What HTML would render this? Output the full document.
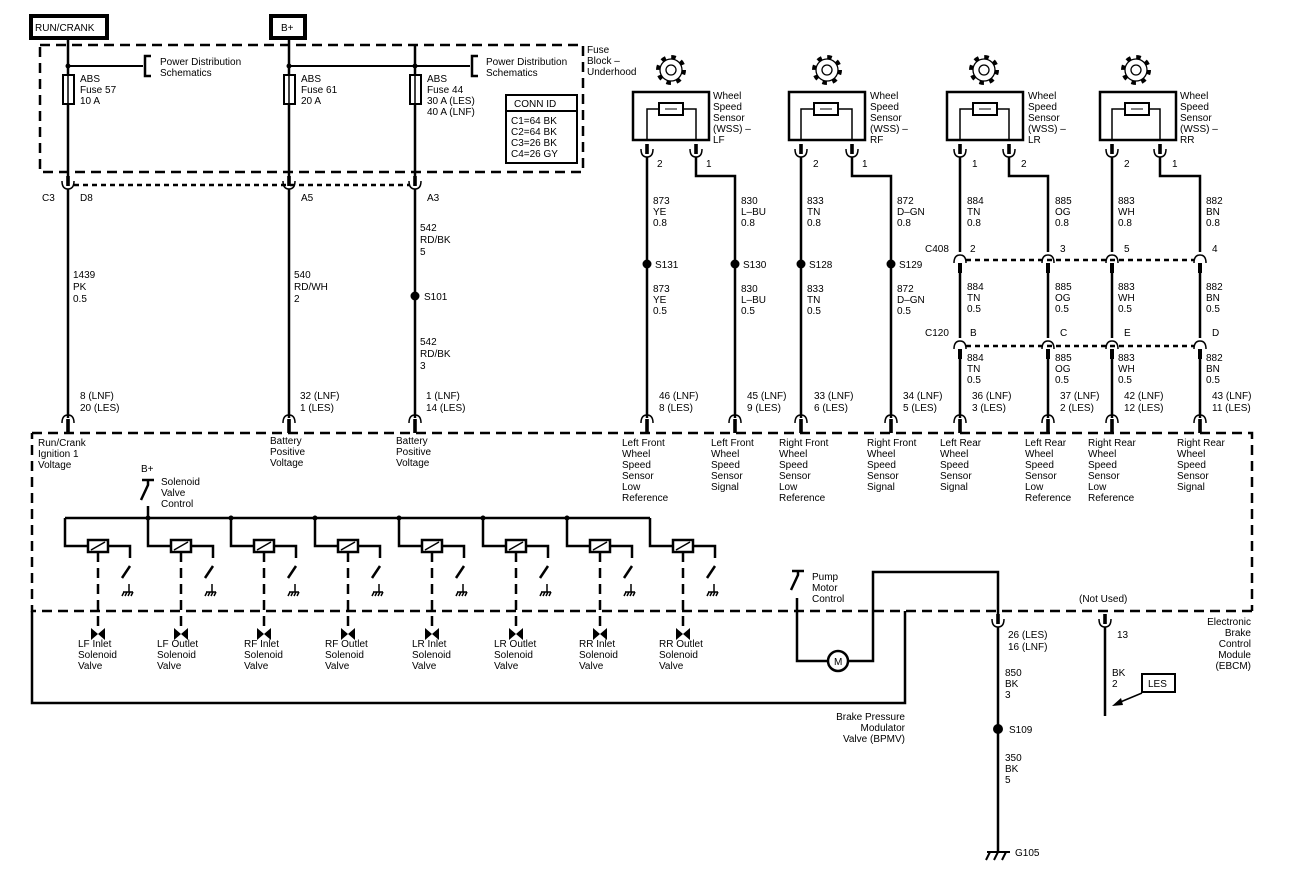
<!DOCTYPE html>
<html><head><meta charset="utf-8"><style>
html,body{margin:0;padding:0;background:#fff;}
svg{display:block;}
text{font-family:"Liberation Sans",Arial,sans-serif;font-size:10px;fill:#000;}
.w{stroke:#000;stroke-width:2.5;fill:none;}
.t{stroke:#000;stroke-width:1.5;fill:none;}
.d{stroke:#000;stroke-width:2.5;fill:none;stroke-dasharray:10 6;}
.dt{stroke:#000;stroke-width:2.5;fill:none;stroke-dasharray:5 4;}
</style></head><body>
<svg width="1300" height="880" viewBox="0 0 1300 880" xmlns="http://www.w3.org/2000/svg">
<defs>
<!-- cup (female) opening up, center at 0,0 -->
<g id="cup"><path d="M-6,-3 Q-6,5 0,5 Q6,5 6,-3" class="t" stroke-width="2"/><rect x="-1.8" y="-8" width="3.6" height="10" fill="#000"/></g>
<!-- arch opening down -->
<g id="arch"><path d="M-6,4 Q-6,-4 0,-4 Q6,-4 6,4" class="t" stroke-width="2"/><rect x="-1.8" y="0" width="3.6" height="14" fill="#000"/></g>
<g id="gear"><circle r="12" fill="none" stroke="#000" stroke-width="6" stroke-dasharray="4.2 5.2"/><circle r="11" fill="#fff" stroke="#000" stroke-width="1.3"/><circle r="5" fill="#fff" stroke="#000" stroke-width="1.3"/></g>
<g id="sol">
<path d="M0,0 V28 H23" class="w"/>
<rect x="23" y="22" width="20" height="12" fill="#fff" stroke="#000" stroke-width="2.5"/>
<path d="M26,32 L40,24" stroke="#000" stroke-width="1.5"/>
<path d="M43,28 H65 V40 M65,48 L57,60" class="w"/>
<path d="M64,66 V74 M58,74 H68 M59,74 L57,78 M62,74 L60,78 M65,74 L63,78 M68,74 L66,78" stroke="#000" stroke-width="1.5" fill="none"/>
<path d="M33,34 V108" class="d" stroke-dasharray="6 5"/>
<path d="M26,110 L33,116 L40,110 V122 L33,116 L26,122 Z" fill="#000"/>
</g>
</defs>

<!-- top power boxes -->
<rect x="31" y="16" width="76" height="22" fill="#fff" stroke="#000" stroke-width="4"/>
<text x="35" y="31" font-size="11">RUN/CRANK</text>
<rect x="271" y="16" width="34" height="22" fill="#fff" stroke="#000" stroke-width="4"/>
<text x="281" y="31" font-size="11">B+</text>

<!-- fuse block -->
<path d="M40,45 H583 V172 H40 Z" class="d"/>
<text x="587" y="53">Fuse</text><text x="587" y="64">Block –</text><text x="587" y="75">Underhood</text>
<path d="M68,38 V183 M289,38 V183 M415,45 V183" class="w"/>
<path d="M68,66 H143 M289,66 H470" stroke="#000" stroke-width="2"/>
<circle cx="68" cy="66" r="2.5"/><circle cx="289" cy="66" r="2.5"/><circle cx="415" cy="66" r="2.5"/>
<path d="M151,56 H145 V76 H151 M478,56 H472 V76 H478" class="w"/>
<text x="160" y="65">Power Distribution</text><text x="160" y="76">Schematics</text>
<text x="486" y="65">Power Distribution</text><text x="486" y="76">Schematics</text>
<rect x="63" y="75" width="11" height="29" fill="#fff" stroke="#000" stroke-width="2"/>
<rect x="284" y="75" width="11" height="29" fill="#fff" stroke="#000" stroke-width="2"/>
<rect x="410" y="75" width="11" height="29" fill="#fff" stroke="#000" stroke-width="2"/>
<path d="M68,75 V104 M289,75 V104 M415,75 V104" stroke="#000" stroke-width="1.5"/>
<text x="80" y="82">ABS</text><text x="80" y="93">Fuse 57</text><text x="80" y="104">10 A</text>
<text x="301" y="82">ABS</text><text x="301" y="93">Fuse 61</text><text x="301" y="104">20 A</text>
<text x="427" y="82">ABS</text><text x="427" y="93">Fuse 44</text><text x="427" y="104">30 A (LES)</text><text x="427" y="115">40 A (LNF)</text>
<rect x="506" y="95" width="71" height="68" fill="#fff" stroke="#000" stroke-width="2"/>
<path d="M506,111 H577" stroke="#000" stroke-width="2"/>
<text x="514" y="107">CONN ID</text>
<text x="511" y="124">C1=64 BK</text><text x="511" y="135">C2=64 BK</text><text x="511" y="146">C3=26 BK</text><text x="511" y="157">C4=26 GY</text>

<!-- C3 connector -->
<path d="M74,185 H410" class="dt"/>
<use href="#cup" x="68" y="184"/><use href="#cup" x="289" y="184"/><use href="#cup" x="415" y="184"/>
<text x="42" y="201">C3</text><text x="80" y="201">D8</text><text x="301" y="201">A5</text><text x="427" y="201">A3</text>
<path d="M68,189 V418 M289,189 V418 M415,189 V418" class="w"/>
<text x="73" y="278">1439</text><text x="73" y="290">PK</text><text x="73" y="302">0.5</text>
<text x="294" y="278">540</text><text x="294" y="290">RD/WH</text><text x="294" y="302">2</text>
<text x="420" y="231">542</text><text x="420" y="243">RD/BK</text><text x="420" y="255">5</text>
<circle cx="415" cy="296" r="4.5"/><text x="424" y="300">S101</text>
<text x="420" y="345">542</text><text x="420" y="357">RD/BK</text><text x="420" y="369">3</text>
<text x="80" y="399">8 (LNF)</text><text x="80" y="411">20 (LES)</text>
<text x="300" y="399">32 (LNF)</text><text x="300" y="411">1 (LES)</text>
<text x="426" y="399">1 (LNF)</text><text x="426" y="411">14 (LES)</text>
<use href="#arch" x="68" y="419"/><use href="#arch" x="289" y="419"/><use href="#arch" x="415" y="419"/>

<!-- wheel speed sensors -->
<g>
<use href="#gear" x="671" y="70"/><use href="#gear" x="827" y="70"/><use href="#gear" x="984" y="70"/><use href="#gear" x="1136" y="70"/>
<rect x="633" y="92" width="76" height="48" fill="#fff" stroke="#000" stroke-width="2.5"/>
<rect x="789" y="92" width="76" height="48" fill="#fff" stroke="#000" stroke-width="2.5"/>
<rect x="947" y="92" width="76" height="48" fill="#fff" stroke="#000" stroke-width="2.5"/>
<rect x="1100" y="92" width="76" height="48" fill="#fff" stroke="#000" stroke-width="2.5"/>
<path d="M647,140 V109 H659 M683,109 H696 V140" class="t" stroke-width="2"/>
<rect x="659" y="103" width="24" height="12" fill="#fff" stroke="#000" stroke-width="2"/><path d="M665,109 H677" stroke="#000"/>
<path d="M801,140 V109 H814 M838,109 H852 V140" class="t" stroke-width="2"/>
<rect x="814" y="103" width="24" height="12" fill="#fff" stroke="#000" stroke-width="2"/><path d="M820,109 H832" stroke="#000"/>
<path d="M960,140 V109 H973 M997,109 H1009 V140" class="t" stroke-width="2"/>
<rect x="973" y="103" width="24" height="12" fill="#fff" stroke="#000" stroke-width="2"/><path d="M979,109 H991" stroke="#000"/>
<path d="M1112,140 V109 H1125 M1149,109 H1160 V140" class="t" stroke-width="2"/>
<rect x="1125" y="103" width="24" height="12" fill="#fff" stroke="#000" stroke-width="2"/><path d="M1131,109 H1143" stroke="#000"/>
<text x="713" y="99">Wheel</text><text x="713" y="110">Speed</text><text x="713" y="121">Sensor</text><text x="713" y="132">(WSS) –</text><text x="713" y="143">LF</text>
<text x="870" y="99">Wheel</text><text x="870" y="110">Speed</text><text x="870" y="121">Sensor</text><text x="870" y="132">(WSS) –</text><text x="870" y="143">RF</text>
<text x="1028" y="99">Wheel</text><text x="1028" y="110">Speed</text><text x="1028" y="121">Sensor</text><text x="1028" y="132">(WSS) –</text><text x="1028" y="143">LR</text>
<text x="1180" y="99">Wheel</text><text x="1180" y="110">Speed</text><text x="1180" y="121">Sensor</text><text x="1180" y="132">(WSS) –</text><text x="1180" y="143">RR</text>
<use href="#cup" x="647" y="152"/><use href="#cup" x="696" y="152"/><use href="#cup" x="801" y="152"/><use href="#cup" x="852" y="152"/>
<use href="#cup" x="960" y="152"/><use href="#cup" x="1009" y="152"/><use href="#cup" x="1112" y="152"/><use href="#cup" x="1160" y="152"/>
<text x="657" y="167">2</text><text x="706" y="167">1</text><text x="813" y="167">2</text><text x="862" y="167">1</text>
<text x="972" y="167">1</text><text x="1021" y="167">2</text><text x="1124" y="167">2</text><text x="1172" y="167">1</text>
</g>
<path d="M647,157 V418 M696,157 V176 H735 V418 M801,157 V418 M852,157 V176 H891 V418
M960,157 V252 M1009,157 V176 H1048 V252 M1112,157 V252 M1160,157 V176 H1200 V252
M960,265 V338 M1048,265 V338 M1112,265 V338 M1200,265 V338
M960,351 V418 M1048,351 V418 M1112,351 V418 M1200,351 V418" class="w"/>
<circle cx="647" cy="264" r="4.5"/><circle cx="735" cy="264" r="4.5"/><circle cx="801" cy="264" r="4.5"/><circle cx="891" cy="264" r="4.5"/>
<text x="655" y="268">S131</text><text x="743" y="268">S130</text><text x="809" y="268">S128</text><text x="899" y="268">S129</text>
<g>
<text x="653" y="204">873</text><text x="653" y="215">YE</text><text x="653" y="226">0.8</text>
<text x="741" y="204">830</text><text x="741" y="215">L–BU</text><text x="741" y="226">0.8</text>
<text x="807" y="204">833</text><text x="807" y="215">TN</text><text x="807" y="226">0.8</text>
<text x="897" y="204">872</text><text x="897" y="215">D–GN</text><text x="897" y="226">0.8</text>
<text x="967" y="204">884</text><text x="967" y="215">TN</text><text x="967" y="226">0.8</text>
<text x="1055" y="204">885</text><text x="1055" y="215">OG</text><text x="1055" y="226">0.8</text>
<text x="1118" y="204">883</text><text x="1118" y="215">WH</text><text x="1118" y="226">0.8</text>
<text x="1206" y="204">882</text><text x="1206" y="215">BN</text><text x="1206" y="226">0.8</text>
<text x="653" y="292">873</text><text x="653" y="303">YE</text><text x="653" y="314">0.5</text>
<text x="741" y="292">830</text><text x="741" y="303">L–BU</text><text x="741" y="314">0.5</text>
<text x="807" y="292">833</text><text x="807" y="303">TN</text><text x="807" y="314">0.5</text>
<text x="897" y="292">872</text><text x="897" y="303">D–GN</text><text x="897" y="314">0.5</text>
<text x="967" y="290">884</text><text x="967" y="301">TN</text><text x="967" y="312">0.5</text>
<text x="1055" y="290">885</text><text x="1055" y="301">OG</text><text x="1055" y="312">0.5</text>
<text x="1118" y="290">883</text><text x="1118" y="301">WH</text><text x="1118" y="312">0.5</text>
<text x="1206" y="290">882</text><text x="1206" y="301">BN</text><text x="1206" y="312">0.5</text>
<text x="967" y="361">884</text><text x="967" y="372">TN</text><text x="967" y="383">0.5</text>
<text x="1055" y="361">885</text><text x="1055" y="372">OG</text><text x="1055" y="383">0.5</text>
<text x="1118" y="361">883</text><text x="1118" y="372">WH</text><text x="1118" y="383">0.5</text>
<text x="1206" y="361">882</text><text x="1206" y="372">BN</text><text x="1206" y="383">0.5</text>
</g>
<!-- C408 / C120 -->
<path d="M966,260 H1194 M966,346 H1194" class="dt"/>
<g>
<path d="M954,263 Q954,255 960,255 Q966,255 966,263 M1042,263 Q1042,255 1048,255 Q1054,255 1054,263 M1106,263 Q1106,255 1112,255 Q1118,255 1118,263 M1194,263 Q1194,255 1200,255 Q1206,255 1206,263" class="t" stroke-width="2"/>
<path d="M954,349 Q954,341 960,341 Q966,341 966,349 M1042,349 Q1042,341 1048,341 Q1054,341 1054,349 M1106,349 Q1106,341 1112,341 Q1118,341 1118,349 M1194,349 Q1194,341 1200,341 Q1206,341 1206,349" class="t" stroke-width="2"/>
<rect x="958" y="263" width="4" height="10"/><rect x="1046" y="263" width="4" height="10"/><rect x="1110" y="263" width="4" height="10"/><rect x="1198" y="263" width="4" height="10"/>
<rect x="958" y="349" width="4" height="10"/><rect x="1046" y="349" width="4" height="10"/><rect x="1110" y="349" width="4" height="10"/><rect x="1198" y="349" width="4" height="10"/>
</g>
<text x="925" y="252">C408</text><text x="970" y="252">2</text><text x="1060" y="252">3</text><text x="1124" y="252">5</text><text x="1212" y="252">4</text>
<text x="925" y="336">C120</text><text x="970" y="336">B</text><text x="1060" y="336">C</text><text x="1124" y="336">E</text><text x="1212" y="336">D</text>
<text x="659" y="399">46 (LNF)</text><text x="659" y="411">8 (LES)</text>
<text x="747" y="399">45 (LNF)</text><text x="747" y="411">9 (LES)</text>
<text x="814" y="399">33 (LNF)</text><text x="814" y="411">6 (LES)</text>
<text x="903" y="399">34 (LNF)</text><text x="903" y="411">5 (LES)</text>
<text x="972" y="399">36 (LNF)</text><text x="972" y="411">3 (LES)</text>
<text x="1060" y="399">37 (LNF)</text><text x="1060" y="411">2 (LES)</text>
<text x="1124" y="399">42 (LNF)</text><text x="1124" y="411">12 (LES)</text>
<text x="1212" y="399">43 (LNF)</text><text x="1212" y="411">11 (LES)</text>
<use href="#arch" x="647" y="419"/><use href="#arch" x="735" y="419"/><use href="#arch" x="801" y="419"/><use href="#arch" x="891" y="419"/>
<use href="#arch" x="960" y="419"/><use href="#arch" x="1048" y="419"/><use href="#arch" x="1112" y="419"/><use href="#arch" x="1200" y="419"/>

<!-- EBCM box -->
<path d="M32,433 H1252 V611 M1252,611 H32 V433" class="d"/>
<path d="M32,611 V703 H905 V611" class="w"/>
<g>
<text x="38" y="446">Run/Crank</text><text x="38" y="457">Ignition 1</text><text x="38" y="468">Voltage</text>
<text x="270" y="444">Battery</text><text x="270" y="455">Positive</text><text x="270" y="466">Voltage</text>
<text x="396" y="444">Battery</text><text x="396" y="455">Positive</text><text x="396" y="466">Voltage</text>
<text x="622" y="446">Left Front</text><text x="622" y="457">Wheel</text><text x="622" y="468">Speed</text><text x="622" y="479">Sensor</text><text x="622" y="490">Low</text><text x="622" y="501">Reference</text>
<text x="711" y="446">Left Front</text><text x="711" y="457">Wheel</text><text x="711" y="468">Speed</text><text x="711" y="479">Sensor</text><text x="711" y="490">Signal</text>
<text x="779" y="446">Right Front</text><text x="779" y="457">Wheel</text><text x="779" y="468">Speed</text><text x="779" y="479">Sensor</text><text x="779" y="490">Low</text><text x="779" y="501">Reference</text>
<text x="867" y="446">Right Front</text><text x="867" y="457">Wheel</text><text x="867" y="468">Speed</text><text x="867" y="479">Sensor</text><text x="867" y="490">Signal</text>
<text x="940" y="446">Left Rear</text><text x="940" y="457">Wheel</text><text x="940" y="468">Speed</text><text x="940" y="479">Sensor</text><text x="940" y="490">Signal</text>
<text x="1025" y="446">Left Rear</text><text x="1025" y="457">Wheel</text><text x="1025" y="468">Speed</text><text x="1025" y="479">Sensor</text><text x="1025" y="490">Low</text><text x="1025" y="501">Reference</text>
<text x="1088" y="446">Right Rear</text><text x="1088" y="457">Wheel</text><text x="1088" y="468">Speed</text><text x="1088" y="479">Sensor</text><text x="1088" y="490">Low</text><text x="1088" y="501">Reference</text>
<text x="1177" y="446">Right Rear</text><text x="1177" y="457">Wheel</text><text x="1177" y="468">Speed</text><text x="1177" y="479">Sensor</text><text x="1177" y="490">Signal</text>
</g>

<!-- solenoid control -->
<text x="141" y="472">B+</text>
<path d="M142,480 H154 M148,480 V485 L141,500" stroke="#000" stroke-width="2.5" fill="none"/>
<text x="161" y="485">Solenoid</text><text x="161" y="496">Valve</text><text x="161" y="507">Control</text>
<path d="M148,506 V518 M65,518 H650" class="w"/>
<circle cx="148" cy="518" r="2.5"/><circle cx="231" cy="518" r="2.5"/><circle cx="315" cy="518" r="2.5"/><circle cx="399" cy="518" r="2.5"/><circle cx="483" cy="518" r="2.5"/><circle cx="567" cy="518" r="2.5"/>
<use href="#sol" x="65" y="518"/><use href="#sol" x="148" y="518"/><use href="#sol" x="231" y="518"/><use href="#sol" x="315" y="518"/>
<use href="#sol" x="399" y="518"/><use href="#sol" x="483" y="518"/><use href="#sol" x="567" y="518"/><use href="#sol" x="650" y="518"/>
<g>
<text x="78" y="647">LF Inlet</text><text x="78" y="658">Solenoid</text><text x="78" y="669">Valve</text>
<text x="157" y="647">LF Outlet</text><text x="157" y="658">Solenoid</text><text x="157" y="669">Valve</text>
<text x="244" y="647">RF Inlet</text><text x="244" y="658">Solenoid</text><text x="244" y="669">Valve</text>
<text x="325" y="647">RF Outlet</text><text x="325" y="658">Solenoid</text><text x="325" y="669">Valve</text>
<text x="412" y="647">LR Inlet</text><text x="412" y="658">Solenoid</text><text x="412" y="669">Valve</text>
<text x="494" y="647">LR Outlet</text><text x="494" y="658">Solenoid</text><text x="494" y="669">Valve</text>
<text x="579" y="647">RR Inlet</text><text x="579" y="658">Solenoid</text><text x="579" y="669">Valve</text>
<text x="659" y="647">RR Outlet</text><text x="659" y="658">Solenoid</text><text x="659" y="669">Valve</text>
</g>

<!-- pump motor -->
<path d="M792,571 H804 M798,571 V575 L791,590" stroke="#000" stroke-width="2.5" fill="none"/>
<text x="812" y="580">Pump</text><text x="812" y="591">Motor</text><text x="812" y="602">Control</text>
<path d="M797,598 V661 H828 M848,661 H873 V572 H998 V614" class="w"/>
<circle cx="838" cy="661" r="10" fill="#fff" stroke="#000" stroke-width="2.5"/>
<text x="834" y="665" font-size="9">M</text>
<text x="905" y="720" text-anchor="end">Brake Pressure</text><text x="905" y="731" text-anchor="end">Modulator</text><text x="905" y="742" text-anchor="end">Valve (BPMV)</text>

<!-- ground wire -->
<use href="#cup" x="998" y="622"/>
<path d="M998,627 V852" class="w"/>
<text x="1008" y="638">26 (LES)</text><text x="1008" y="650">16 (LNF)</text>
<text x="1005" y="676">850</text><text x="1005" y="687">BK</text><text x="1005" y="698">3</text>
<circle cx="998" cy="729" r="5"/><text x="1009" y="733">S109</text>
<text x="1005" y="761">350</text><text x="1005" y="772">BK</text><text x="1005" y="783">5</text>
<path d="M987,852 H1010 M990,852 L986,860 M998,852 L994,860 M1006,852 L1002,860" stroke="#000" stroke-width="2" fill="none"/>
<text x="1015" y="856">G105</text>

<!-- not used -->
<text x="1079" y="602">(Not Used)</text>
<use href="#cup" x="1105" y="622"/>
<path d="M1105,627 V716" class="w"/>
<text x="1117" y="638">13</text>
<text x="1112" y="676">BK</text><text x="1112" y="687">2</text>
<rect x="1142" y="674" width="33" height="18" fill="#fff" stroke="#000" stroke-width="2"/>
<text x="1148" y="687">LES</text>
<path d="M1142,693 L1118,703" stroke="#000" stroke-width="1.5"/>
<path d="M1112,706 L1121,698 L1123,705 Z" fill="#000"/>
<text x="1251" y="625" text-anchor="end">Electronic</text><text x="1251" y="636" text-anchor="end">Brake</text><text x="1251" y="647" text-anchor="end">Control</text><text x="1251" y="658" text-anchor="end">Module</text><text x="1251" y="669" text-anchor="end">(EBCM)</text>
</svg>
</body></html>
